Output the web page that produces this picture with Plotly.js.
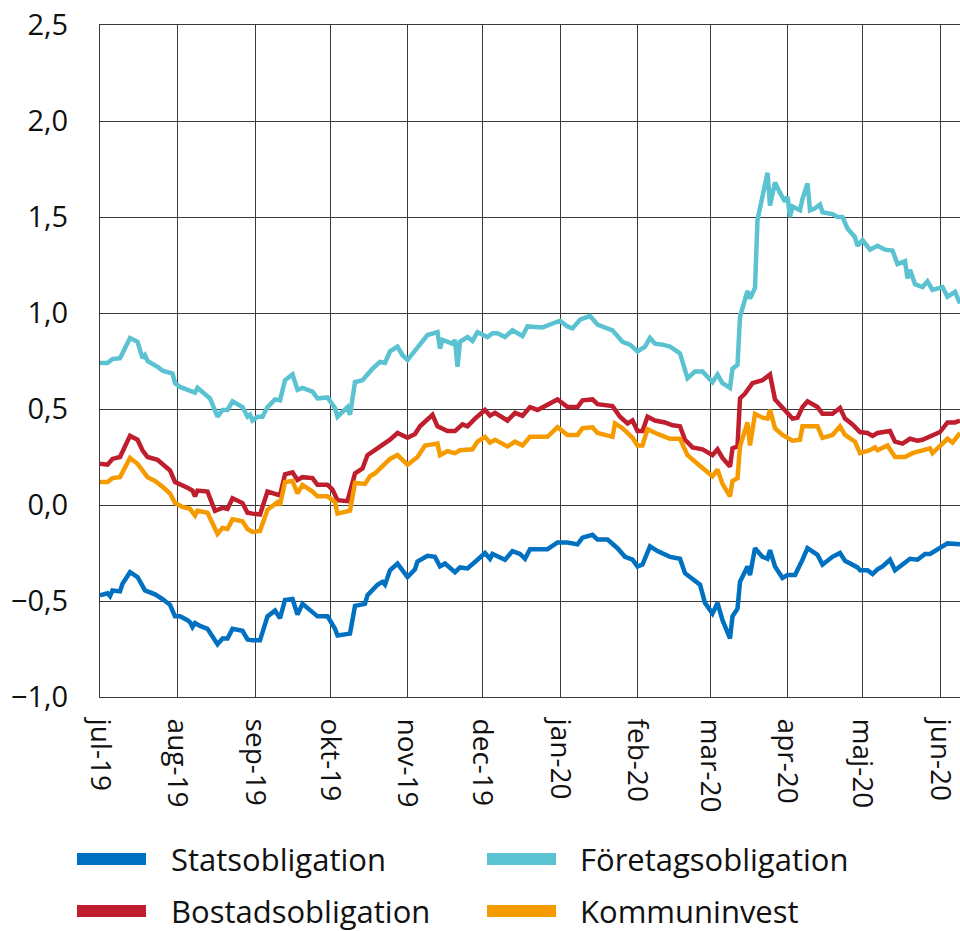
<!DOCTYPE html>
<html>
<head>
<meta charset="utf-8">
<script src="https://cdn.plot.ly/plotly-3.0.1.min.js"></script>
<style>
  html, body { margin: 0; padding: 0; background: #ffffff; }
  #chart { width: 960px; height: 931px; }
</style>
</head>
<body>
<div id="chart"></div>
<script>
// ---- Data ----
const seriesNames = ["Statsobligation", "Företagsobligation", "Bostadsobligation", "Kommuninvest"];
const seriesColors = ["#0070C0", "#5BC2D1", "#BE1E2D", "#F59B00"];

const monthTickVals = ["2019-07-01","2019-08-01","2019-09-01","2019-10-01","2019-11-01","2019-12-01",
                       "2020-01-01","2020-02-01","2020-03-01","2020-04-01","2020-05-01","2020-06-01"];
const monthTickText = ["jul-19","aug-19","sep-19","okt-19","nov-19","dec-19",
                       "jan-20","feb-20","mar-20","apr-20","maj-20","jun-20"];

const statsDates = ["2019-07-01","2019-07-04","2019-07-05","2019-07-06","2019-07-09","2019-07-10","2019-07-13","2019-07-16","2019-07-19","2019-07-23",
"2019-07-26","2019-07-29","2019-07-31","2019-08-02","2019-08-05","2019-08-06","2019-08-07","2019-08-08","2019-08-10","2019-08-13",
"2019-08-17","2019-08-19","2019-08-21","2019-08-23","2019-08-27","2019-08-29","2019-08-31","2019-09-03","2019-09-06","2019-09-09",
"2019-09-11","2019-09-13","2019-09-16","2019-09-18","2019-09-20","2019-09-24","2019-09-26","2019-09-30","2019-10-03","2019-10-04",
"2019-10-09","2019-10-11","2019-10-15","2019-10-16","2019-10-18","2019-10-20","2019-10-22","2019-10-23","2019-10-25","2019-10-28",
"2019-11-01","2019-11-04","2019-11-05","2019-11-09","2019-11-12","2019-11-14","2019-11-16","2019-11-20","2019-11-22","2019-11-25",
"2019-11-29","2019-12-02","2019-12-04","2019-12-05","2019-12-10","2019-12-13","2019-12-16","2019-12-18","2019-12-20","2019-12-27",
"2019-12-31","2020-01-04","2020-01-08","2020-01-10","2020-01-14","2020-01-16","2020-01-20","2020-01-24","2020-01-27","2020-01-30",
"2020-02-01","2020-02-03","2020-02-06","2020-02-09","2020-02-14","2020-02-18","2020-02-20","2020-02-24","2020-02-26","2020-02-28",
"2020-03-02","2020-03-04","2020-03-06","2020-03-09","2020-03-10","2020-03-12","2020-03-13","2020-03-16","2020-03-17","2020-03-19",
"2020-03-22","2020-03-24","2020-03-25","2020-03-27","2020-03-30","2020-04-01","2020-04-04","2020-04-07","2020-04-09","2020-04-13",
"2020-04-15","2020-04-19","2020-04-22","2020-04-24","2020-04-29","2020-04-30","2020-05-03","2020-05-05","2020-05-07","2020-05-09",
"2020-05-12","2020-05-14","2020-05-17","2020-05-20","2020-05-23","2020-05-26","2020-05-28","2020-05-31","2020-06-04","2020-06-09"];
const statsValues = [-0.47,-0.46,-0.475,-0.445,-0.45,-0.41,-0.35,-0.375,-0.445,-0.465,
-0.49,-0.52,-0.58,-0.58,-0.60,-0.61,-0.635,-0.615,-0.63,-0.645,
-0.725,-0.695,-0.695,-0.645,-0.655,-0.70,-0.705,-0.705,-0.58,-0.55,
-0.59,-0.495,-0.49,-0.57,-0.515,-0.555,-0.58,-0.58,-0.645,-0.68,
-0.67,-0.525,-0.515,-0.47,-0.44,-0.415,-0.40,-0.415,-0.34,-0.305,
-0.375,-0.335,-0.295,-0.265,-0.27,-0.32,-0.305,-0.35,-0.325,-0.33,
-0.285,-0.25,-0.28,-0.255,-0.285,-0.24,-0.255,-0.28,-0.23,-0.23,
-0.195,-0.195,-0.205,-0.17,-0.155,-0.18,-0.18,-0.225,-0.27,-0.285,
-0.32,-0.31,-0.215,-0.24,-0.27,-0.28,-0.355,-0.40,-0.415,-0.51,
-0.565,-0.51,-0.60,-0.695,-0.58,-0.54,-0.40,-0.32,-0.365,-0.225,
-0.27,-0.28,-0.235,-0.32,-0.38,-0.365,-0.365,-0.285,-0.225,-0.26,
-0.31,-0.27,-0.25,-0.29,-0.325,-0.34,-0.34,-0.36,-0.335,-0.32,
-0.285,-0.34,-0.31,-0.28,-0.285,-0.255,-0.255,-0.23,-0.20,-0.205];

const foretagDates = ["2019-07-01","2019-07-04","2019-07-06","2019-07-09","2019-07-10","2019-07-13","2019-07-16","2019-07-18","2019-07-19","2019-07-20",
"2019-07-24","2019-07-26","2019-07-30","2019-07-31","2019-08-02","2019-08-06","2019-08-08","2019-08-09","2019-08-12","2019-08-14",
"2019-08-17","2019-08-19","2019-08-21","2019-08-23","2019-08-27","2019-08-29","2019-08-30","2019-08-31","2019-09-02","2019-09-04",
"2019-09-06","2019-09-09","2019-09-11","2019-09-13","2019-09-16","2019-09-18","2019-09-20","2019-09-24","2019-09-26","2019-09-30",
"2019-10-03","2019-10-04","2019-10-08","2019-10-09","2019-10-11","2019-10-14","2019-10-18","2019-10-21","2019-10-23","2019-10-25",
"2019-10-28","2019-10-30","2019-11-01","2019-11-06","2019-11-09","2019-11-13","2019-11-14","2019-11-15","2019-11-19","2019-11-20",
"2019-11-21","2019-11-22","2019-11-25","2019-11-27","2019-11-29","2019-12-03","2019-12-05","2019-12-07","2019-12-10","2019-12-13",
"2019-12-17","2019-12-19","2019-12-25","2019-12-28","2020-01-01","2020-01-04","2020-01-06","2020-01-09","2020-01-13","2020-01-16",
"2020-01-22","2020-01-26","2020-01-29","2020-02-01","2020-02-04","2020-02-06","2020-02-08","2020-02-11","2020-02-14","2020-02-18",
"2020-02-20","2020-02-21","2020-02-24","2020-02-27","2020-03-02","2020-03-04","2020-03-06","2020-03-09","2020-03-10","2020-03-12",
"2020-03-13","2020-03-15","2020-03-16","2020-03-17","2020-03-19","2020-03-20","2020-03-22","2020-03-24","2020-03-25","2020-03-27",
"2020-03-29","2020-03-31","2020-04-01","2020-04-02","2020-04-03","2020-04-06","2020-04-07","2020-04-09","2020-04-10","2020-04-12",
"2020-04-14","2020-04-15","2020-04-19","2020-04-21","2020-04-23","2020-04-25","2020-04-28","2020-04-29","2020-05-01","2020-05-04",
"2020-05-07","2020-05-10","2020-05-13","2020-05-15","2020-05-18","2020-05-19","2020-05-20","2020-05-22","2020-05-25","2020-05-27",
"2020-05-29","2020-06-02","2020-06-04","2020-06-07","2020-06-09"];
const foretagValues = [0.74,0.74,0.76,0.765,0.79,0.87,0.85,0.765,0.78,0.75,
0.72,0.70,0.685,0.635,0.615,0.595,0.585,0.61,0.58,0.555,
0.46,0.495,0.495,0.54,0.51,0.46,0.47,0.44,0.46,0.46,
0.51,0.55,0.545,0.65,0.68,0.60,0.61,0.59,0.555,0.56,
0.505,0.46,0.51,0.47,0.64,0.65,0.71,0.745,0.74,0.80,
0.825,0.78,0.755,0.835,0.885,0.90,0.815,0.86,0.84,0.86,
0.72,0.85,0.875,0.855,0.90,0.875,0.895,0.895,0.875,0.91,
0.88,0.93,0.925,0.94,0.96,0.93,0.92,0.965,0.985,0.94,
0.91,0.85,0.835,0.80,0.825,0.87,0.84,0.835,0.825,0.79,
0.71,0.66,0.695,0.695,0.64,0.68,0.635,0.61,0.71,0.73,
0.98,1.07,1.115,1.075,1.13,1.485,1.62,1.73,1.56,1.68,
1.625,1.58,1.605,1.50,1.555,1.535,1.595,1.675,1.535,1.545,
1.565,1.525,1.515,1.50,1.50,1.44,1.395,1.35,1.38,1.33,
1.35,1.33,1.325,1.255,1.27,1.18,1.225,1.15,1.135,1.165,
1.12,1.135,1.085,1.11,1.05];

const bostadDates = ["2019-07-01","2019-07-04","2019-07-06","2019-07-09","2019-07-13","2019-07-16","2019-07-18","2019-07-20","2019-07-24","2019-07-26",
"2019-07-29","2019-07-31","2019-08-02","2019-08-05","2019-08-07","2019-08-08","2019-08-09","2019-08-13","2019-08-16","2019-08-19",
"2019-08-21","2019-08-23","2019-08-27","2019-08-29","2019-08-31","2019-09-03","2019-09-06","2019-09-11","2019-09-13","2019-09-16",
"2019-09-18","2019-09-20","2019-09-24","2019-09-26","2019-09-30","2019-10-02","2019-10-04","2019-10-08","2019-10-11","2019-10-14",
"2019-10-16","2019-10-19","2019-10-22","2019-10-25","2019-10-28","2019-11-01","2019-11-04","2019-11-06","2019-11-11","2019-11-13",
"2019-11-17","2019-11-20","2019-11-23","2019-11-25","2019-11-28","2019-12-02","2019-12-04","2019-12-06","2019-12-11","2019-12-14",
"2019-12-17","2019-12-20","2019-12-23","2019-12-27","2019-12-31","2020-01-04","2020-01-08","2020-01-10","2020-01-14","2020-01-16",
"2020-01-22","2020-01-25","2020-01-28","2020-01-30","2020-02-01","2020-02-03","2020-02-05","2020-02-08","2020-02-12","2020-02-15",
"2020-02-18","2020-02-20","2020-02-23","2020-02-27","2020-03-02","2020-03-04","2020-03-06","2020-03-09","2020-03-10","2020-03-12",
"2020-03-13","2020-03-15","2020-03-18","2020-03-22","2020-03-25","2020-03-27","2020-03-30","2020-04-03","2020-04-05","2020-04-07",
"2020-04-09","2020-04-13","2020-04-15","2020-04-19","2020-04-22","2020-04-24","2020-04-27","2020-04-30","2020-05-03","2020-05-05",
"2020-05-07","2020-05-12","2020-05-14","2020-05-17","2020-05-20","2020-05-23","2020-05-25","2020-05-29","2020-06-01","2020-06-04",
"2020-06-07","2020-06-09"];
const bostadValues = [0.215,0.21,0.24,0.25,0.36,0.34,0.285,0.25,0.235,0.215,
0.18,0.12,0.11,0.09,0.075,0.045,0.075,0.07,-0.03,-0.015,
-0.02,0.035,0.01,-0.04,-0.045,-0.05,0.07,0.05,0.16,0.17,
0.13,0.145,0.14,0.105,0.105,0.08,0.025,0.02,0.165,0.19,
0.26,0.285,0.31,0.34,0.375,0.35,0.37,0.41,0.47,0.41,
0.385,0.385,0.42,0.41,0.45,0.495,0.465,0.48,0.44,0.48,
0.465,0.51,0.495,0.525,0.55,0.51,0.51,0.545,0.55,0.525,
0.515,0.46,0.425,0.44,0.385,0.385,0.46,0.44,0.43,0.415,
0.41,0.34,0.30,0.29,0.26,0.29,0.245,0.20,0.295,0.305,
0.555,0.58,0.635,0.65,0.68,0.55,0.505,0.45,0.455,0.51,
0.54,0.51,0.475,0.475,0.505,0.45,0.42,0.38,0.375,0.36,
0.375,0.385,0.33,0.32,0.345,0.335,0.34,0.365,0.38,0.43,
0.43,0.44];

const kommunDates = ["2019-07-01","2019-07-04","2019-07-06","2019-07-09","2019-07-13","2019-07-16","2019-07-20","2019-07-23","2019-07-26","2019-07-29",
"2019-07-31","2019-08-03","2019-08-06","2019-08-08","2019-08-09","2019-08-13","2019-08-17","2019-08-19","2019-08-21","2019-08-23",
"2019-08-27","2019-08-29","2019-08-31","2019-09-03","2019-09-06","2019-09-10","2019-09-11","2019-09-13","2019-09-16","2019-09-18",
"2019-09-20","2019-09-24","2019-09-26","2019-09-30","2019-10-03","2019-10-04","2019-10-09","2019-10-11","2019-10-15","2019-10-17",
"2019-10-19","2019-10-22","2019-10-25","2019-10-28","2019-11-01","2019-11-05","2019-11-08","2019-11-13","2019-11-14","2019-11-17",
"2019-11-20","2019-11-22","2019-11-27","2019-11-29","2019-12-02","2019-12-04","2019-12-06","2019-12-11","2019-12-14","2019-12-17",
"2019-12-20","2019-12-27","2019-12-31","2020-01-04","2020-01-08","2020-01-10","2020-01-14","2020-01-16","2020-01-22","2020-01-23",
"2020-01-26","2020-01-30","2020-02-01","2020-02-03","2020-02-05","2020-02-09","2020-02-14","2020-02-18","2020-02-21","2020-02-25",
"2020-02-28","2020-03-02","2020-03-04","2020-03-06","2020-03-09","2020-03-10","2020-03-12","2020-03-13","2020-03-16","2020-03-17",
"2020-03-19","2020-03-22","2020-03-24","2020-03-25","2020-03-27","2020-03-30","2020-04-03","2020-04-06","2020-04-07","2020-04-10",
"2020-04-13","2020-04-15","2020-04-19","2020-04-22","2020-04-24","2020-04-28","2020-04-30","2020-05-04","2020-05-06","2020-05-07",
"2020-05-11","2020-05-14","2020-05-18","2020-05-21","2020-05-25","2020-05-28","2020-05-29","2020-06-01","2020-06-04","2020-06-06",
"2020-06-09"];
const kommunValues = [0.12,0.12,0.14,0.145,0.245,0.215,0.145,0.125,0.095,0.06,
0.01,-0.01,-0.02,-0.055,-0.03,-0.04,-0.15,-0.12,-0.125,-0.075,
-0.085,-0.125,-0.14,-0.135,-0.025,0.015,0.0,0.12,0.125,0.06,
0.105,0.07,0.045,0.045,0.015,-0.045,-0.03,0.115,0.11,0.15,
0.165,0.20,0.24,0.26,0.21,0.25,0.31,0.32,0.26,0.28,
0.27,0.285,0.29,0.33,0.355,0.325,0.34,0.305,0.33,0.31,
0.355,0.355,0.405,0.365,0.365,0.40,0.405,0.375,0.355,0.425,
0.40,0.35,0.31,0.31,0.395,0.37,0.345,0.345,0.26,0.215,
0.185,0.15,0.185,0.11,0.045,0.125,0.14,0.305,0.43,0.31,
0.475,0.455,0.45,0.495,0.40,0.365,0.335,0.34,0.41,0.41,
0.41,0.35,0.365,0.41,0.365,0.33,0.27,0.285,0.30,0.285,
0.31,0.25,0.25,0.27,0.285,0.295,0.27,0.305,0.345,0.325,
0.375];

const yTickVals = [-1.0, -0.5, 0.0, 0.5, 1.0, 1.5, 2.0, 2.5];

// ---- Chart ----
const xs = [statsDates, foretagDates, bostadDates, kommunDates];
const ys = [statsValues, foretagValues, bostadValues, kommunValues];

const traces = seriesNames.map((name, i) => ({
  type: "scatter",
  mode: "lines",
  name: name,
  x: xs[i],
  y: ys[i],
  line: { color: seriesColors[i], width: 4.5 },
  showlegend: false,
  hoverinfo: "x+y+name"
}));

const fontFamily = "'Open Sans', 'Noto Sans', 'DejaVu Sans', sans-serif";
const gridColor = "#3a3a3a";

// Manual legend, laid out in two rows / two columns like the reference
const legendRows = [
  { idx: 0, col: 0, row: 0 },
  { idx: 1, col: 1, row: 0 },
  { idx: 2, col: 0, row: 1 },
  { idx: 3, col: 1, row: 1 }
];
const plotL = 100, plotW = 860, plotB = 697, plotH = 672;
const px2x = p => (p - plotL) / plotW;
const py2y = p => (plotB - p) / plotH;
const swatchX = [[77, 146], [487, 556]];
const textX = [169, 578];
const rowY = [859, 911];

const shapes = [];
const annotations = [];
legendRows.forEach(e => {
  shapes.push({
    type: "rect", xref: "paper", yref: "paper",
    x0: px2x(swatchX[e.col][0]), x1: px2x(swatchX[e.col][1]),
    y0: py2y(rowY[e.row] + 6), y1: py2y(rowY[e.row] - 6),
    fillcolor: seriesColors[e.idx], line: { width: 0 }
  });
  annotations.push({
    xref: "paper", yref: "paper",
    x: px2x(textX[e.col]), y: py2y(rowY[e.row]),
    xanchor: "left", yanchor: "middle",
    text: seriesNames[e.idx], showarrow: false,
    font: { family: fontFamily, size: 31, color: "#111111" }
  });
});

const layout = {
  width: 960, height: 931,
  margin: { l: 100, r: 0, t: 25, b: 234 },
  paper_bgcolor: "#ffffff",
  plot_bgcolor: "#ffffff",
  separators: ", ",
  showlegend: false,
  font: { family: fontFamily, color: "#111111" },
  xaxis: {
    type: "date",
    range: ["2019-07-01", "2020-06-09"],
    tickmode: "array",
    tickvals: monthTickVals,
    ticktext: monthTickText,
    tickangle: 90,
    tickfont: { family: fontFamily, size: 28, color: "#111111" },
    ticks: "",
    ticklabelstandoff: 15,
    ticklabeloverflow: "allow",
    showgrid: true,
    gridcolor: gridColor,
    gridwidth: 1,
    showline: true,
    mirror: true,
    linecolor: gridColor,
    linewidth: 1,
    zeroline: false,
    fixedrange: true
  },
  yaxis: {
    range: [-1.0, 2.5],
    tickmode: "array",
    tickvals: yTickVals,
    tickformat: ".1f",
    tickfont: { family: fontFamily, size: 29, color: "#111111" },
    ticks: "",
    ticklabelstandoff: 25,
    showgrid: true,
    gridcolor: gridColor,
    gridwidth: 1,
    showline: true,
    linecolor: gridColor,
    linewidth: 1,
    zeroline: false,
    fixedrange: true
  },
  shapes: shapes,
  annotations: annotations
};

Plotly.newPlot("chart", traces, layout, { displayModeBar: false, staticPlot: true });
</script>
</body>
</html>
